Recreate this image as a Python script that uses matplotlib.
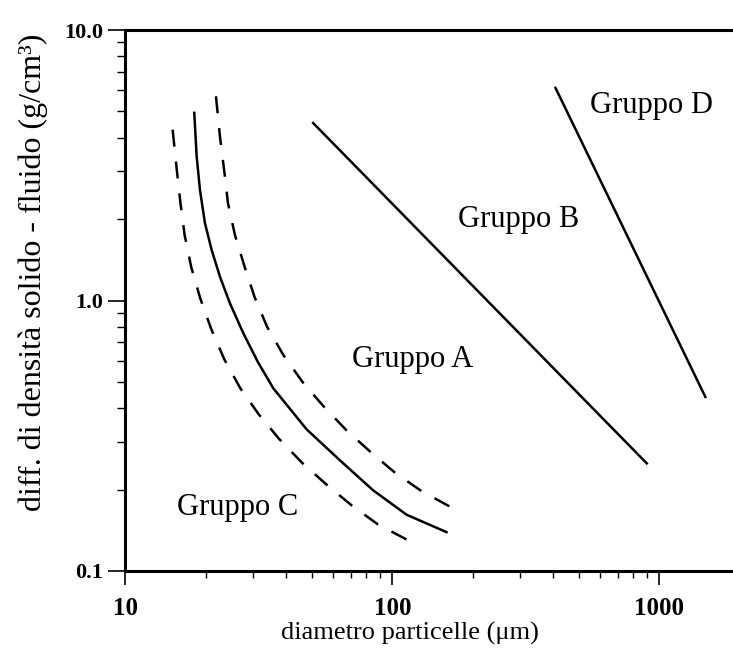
import matplotlib
matplotlib.use("Agg")
import matplotlib.pyplot as plt
from matplotlib.ticker import LogLocator, NullFormatter

# curva di confine C/A (continua) e bande tratteggiate
ca_x = [18.10, 18.48, 19.01, 19.85, 21.03, 22.59, 24.63, 27.62, 31.35, 35.78, 47.71, 63.60, 84.75, 113.0, 159.6]
ca_y = [4.94, 3.41, 2.567, 1.931, 1.538, 1.225, 0.976, 0.758, 0.592, 0.474, 0.334, 0.2566, 0.1987, 0.1615, 0.1392]

low_x = [15.02, 15.57, 16.07, 16.66, 17.64, 19.06, 20.96, 23.44, 26.92, 31.54, 37.67, 45.81, 56.51, 70.34, 88.25, 121.4]
low_y = [4.28, 3.035, 2.291, 1.743, 1.327, 1.019, 0.784, 0.607, 0.474, 0.380, 0.3076, 0.2516, 0.2091, 0.1749, 0.1487, 0.126]

high_x = [21.83, 22.63, 23.43, 24.21, 25.71, 27.91, 30.48, 33.94, 39.07, 46.02, 55.30, 67.36, 82.87, 102.4, 128.7, 176.4]
high_y = [5.69, 3.975, 3.03, 2.291, 1.748, 1.339, 1.028, 0.799, 0.628, 0.5004, 0.4057, 0.331, 0.2754, 0.2307, 0.1973, 0.1665]

# confini A/B e B/D
ab_x = [50.5, 898.0]
ab_y = [4.53, 0.25]
bd_x = [408.6, 1489.0]
bd_y = [6.11, 0.44]

gruppi = ["Gruppo A", "Gruppo B", "Gruppo C", "Gruppo D"]
gruppi_x = [119.0, 297.8, 26.3, 938.0]
gruppi_y = [0.5657, 1.876, 0.1606, 4.94]

xticks = [10, 100, 1000]
xlabels = ["10", "100", "1000"]
yticks = [0.1, 1.0, 10.0]
ylabels = ["0.1", "1.0", "10.0"]

serif = ["Liberation Serif", "DejaVu Serif"]

fig = plt.figure(figsize=(7.33, 6.51), dpi=100)
ax = fig.add_axes([0.1712, 0.1229, 0.8288, 0.8310])

ax.plot(ca_x, ca_y, color="black", lw=1.8)
ax.plot(low_x, low_y, color="black", lw=1.8, dashes=(6.8, 6))
ax.plot(high_x, high_y, color="black", lw=1.8, dashes=(6.8, 6))
ax.plot(ab_x, ab_y, color="black", lw=1.8)
ax.plot(bd_x, bd_y, color="black", lw=1.8)

for t, x, y in zip(gruppi, gruppi_x, gruppi_y):
    ax.text(x, y, t, ha="center", va="baseline", fontsize=22, family=serif)

ax.set_xscale("log")
ax.set_yscale("log")
ax.set_xlim(10, 1890)
ax.set_ylim(0.1, 10)

ax.set_xticks(xticks)
ax.set_xticklabels(xlabels, fontsize=18, fontweight="bold", family=serif)
ax.set_yticks(yticks)
ax.set_yticklabels(ylabels, fontsize=16, fontweight="bold", family=serif)
ax.xaxis.set_minor_locator(LogLocator(base=10, subs=range(2, 10)))
ax.yaxis.set_minor_locator(LogLocator(base=10, subs=range(2, 10)))
ax.xaxis.set_minor_formatter(NullFormatter())
ax.yaxis.set_minor_formatter(NullFormatter())

ax.tick_params(axis="x", which="major", direction="out", length=10, width=1.2, pad=9)
ax.tick_params(axis="x", which="minor", direction="out", length=5, width=1.0)
ax.tick_params(axis="y", which="major", direction="out", length=12, width=1.2, pad=4)
ax.tick_params(axis="y", which="minor", direction="out", length=6, width=1.0)

ax.spines["right"].set_visible(False)
for s in ["left", "bottom", "top"]:
    ax.spines[s].set_linewidth(2.2)

ax.set_xlabel("diametro particelle (μm)", fontsize=19, family=serif)
ax.xaxis.set_label_coords(0.468, -0.095)
ax.xaxis.label.set_va("top")
ax.set_ylabel("diff. di densità solido - fluido (g/cm³)", fontsize=23, family=serif)
ax.yaxis.set_label_coords(-0.128, 0.553)

fig.savefig("out.png", dpi=100)
